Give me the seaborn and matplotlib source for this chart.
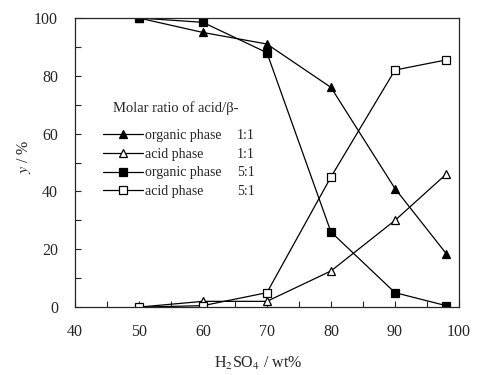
import pandas as pd
import matplotlib.pyplot as plt
import seaborn as sns
from matplotlib.lines import Line2D
from matplotlib.ticker import MultipleLocator

# Data
h2so4 = [50, 60, 70, 80, 90, 98]
organic_11 = [100, 95, 91, 76, 41, 18.5]
acid_11 = [0, 2, 2, 12.5, 30, 46]
organic_51 = [100, 98.5, 88, 26, 5, 0.5]
acid_51 = [0, 0.5, 5, 45, 82, 85.5]

phases = ['organic phase', 'acid phase', 'organic phase', 'acid phase']
ratios = ['1:1', '1:1', '5:1', '5:1']
markers = ['^', '^', 's', 's']
fills = ['black', 'white', 'black', 'white']
series = [organic_11, acid_11, organic_51, acid_51]

sns.set_style("ticks")
plt.rcParams['font.family'] = ['Liberation Serif', 'DejaVu Serif']
plt.rcParams['mathtext.fontset'] = 'stix'

fig = plt.figure(figsize=(4.92, 3.75), dpi=100)
ax = fig.add_axes([0.152, 0.181, 0.781, 0.771])

handles = []
for vals, m, fc in zip(series, markers, fills):
    df = pd.DataFrame({'x': h2so4, 'y': vals})
    sns.lineplot(data=df, x='x', y='y', ax=ax, color='black', linewidth=0.9,
                 marker=m, markersize=5.2, markerfacecolor=fc,
                 markeredgecolor='black', markeredgewidth=0.9)
    handles.append(Line2D([0], [0], color='black', linewidth=0.9, marker=m,
                          markersize=5.2, markerfacecolor=fc,
                          markeredgecolor='black', markeredgewidth=0.9))

ax.set_xlim(40, 100)
ax.set_ylim(0, 100)
ax.xaxis.set_major_locator(MultipleLocator(10))
ax.xaxis.set_minor_locator(MultipleLocator(5))
ax.yaxis.set_major_locator(MultipleLocator(20))
ax.yaxis.set_minor_locator(MultipleLocator(10))
ax.tick_params(which='both', direction='in', top=False, right=False,
               labelsize=11.5, pad=12, length=4, width=0.8)
for s in ax.spines.values():
    s.set_linewidth(0.9)

ax.set_xlabel(r'H$_2$SO$_4$ / wt%', fontsize=11.5)
ax.set_ylabel(r'$\it{y}$ / %', fontsize=11.5)
ax.xaxis.set_label_coords(0.477, -0.165)
ax.yaxis.set_label_coords(-0.11, 0.52)

leg = ax.legend(handles, phases, loc='upper left', bbox_to_anchor=(0.04, 0.66),
                frameon=False, fontsize=10, handlelength=2.9, handletextpad=0.15,
                labelspacing=0.42)

# legend heading and ratio column
ax.text(0.1, 0.69, 'Molar ratio of acid/β-', transform=ax.transAxes,
        fontsize=10.5, va='center')
fig.canvas.draw()
renderer = fig.canvas.get_renderer()
inv = ax.transAxes.inverted()
for txt, r in zip(leg.get_texts(), ratios):
    bb = txt.get_window_extent(renderer)
    x0, y0 = inv.transform((bb.x0, (bb.y0 + bb.y1) / 2))
    ax.text(0.422, y0, r, transform=ax.transAxes, fontsize=10, va='center')

fig.savefig('out.png', dpi=100)
